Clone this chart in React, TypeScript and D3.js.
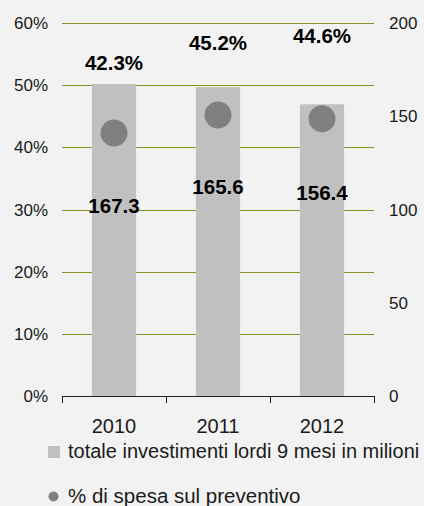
import React from "react";
import * as d3 from "d3";

const years = ["2010", "2011", "2012"];
const investimenti = [167.3, 165.6, 156.4];
const spesaPct = [0.423, 0.452, 0.446];
const leftTicks = [0, 0.1, 0.2, 0.3, 0.4, 0.5, 0.6];
const rightTicks = [0, 50, 100, 150, 200];
const legendLabels = ["totale investimenti lordi 9 mesi in milioni", "% di spesa sul preventivo"];

const W = 424;
const H = 506;
const FONT = "'Liberation Sans', Arial, sans-serif";

export default function App() {
  const x = d3.scaleBand<string>().domain(years).range([62, 374]);
  const yL = d3.scaleLinear().domain([0, 0.6]).range([396, 23]);
  const yR = d3.scaleLinear().domain([0, 200]).range([396, 23]);
  const barW = x.bandwidth() * 0.425;
  const pctDy = [-63, -65, -76];
  const barDy = [129, 107, 96];
  const pctFmt = d3.format(".1%");
  const numFmt = d3.format(".1f");
  const xTicks = [...years.map((y) => x(y) as number), 374];

  return (
    <div style={{ position: "absolute", left: 0, top: 0 }}>
      <svg width={W} height={H} style={{ display: "block" }} fontFamily={FONT}>
        <rect x={0} y={0} width={W} height={H} fill="#f2f2f2" />
        {leftTicks.slice(1).map((t) => (
          <line key={t} x1={62} x2={374} y1={Math.round(yL(t)) + 0.5} y2={Math.round(yL(t)) + 0.5} stroke="#8f8f1f" strokeWidth={1} />
        ))}
        {years.map((y, i) => (
          <rect
            key={y}
            x={(x(y) as number) + x.bandwidth() / 2 - barW / 2}
            y={yR(investimenti[i])}
            width={barW}
            height={yR(0) - yR(investimenti[i])}
            fill="#c0c0c0"
          />
        ))}
        <line x1={62} x2={374} y1={396.5} y2={396.5} stroke="#222" strokeWidth={1} />
        {xTicks.map((t, i) => (
          <line key={i} x1={Math.round(t) + 0.5} x2={Math.round(t) + 0.5} y1={396} y2={403} stroke="#222" strokeWidth={1} />
        ))}
        {leftTicks.map((t) => (
          <text key={t} x={48} y={yL(t) + 6} textAnchor="end" fontSize={17} fill="#1a1a1a">
            {d3.format(".0%")(t)}
          </text>
        ))}
        {rightTicks.map((t) => (
          <text key={t} x={389} y={yR(t) + 6} textAnchor="start" fontSize={17} fill="#1a1a1a">
            {t}
          </text>
        ))}
        {years.map((y, i) => (
          <circle key={y} cx={(x(y) as number) + x.bandwidth() / 2} cy={yL(spesaPct[i])} r={13.5} fill="#808080" />
        ))}
        {years.map((y, i) => (
          <text key={"p" + y} x={(x(y) as number) + x.bandwidth() / 2} y={yL(spesaPct[i]) + pctDy[i]} textAnchor="middle" fontSize={20.5} fontWeight="bold" fill="#000">
            {pctFmt(spesaPct[i])}
          </text>
        ))}
        {years.map((y, i) => (
          <text key={"b" + y} x={(x(y) as number) + x.bandwidth() / 2} y={yR(investimenti[i]) + barDy[i]} textAnchor="middle" fontSize={20.5} fontWeight="bold" fill="#000">
            {numFmt(investimenti[i])}
          </text>
        ))}
        {years.map((y) => (
          <text key={"x" + y} x={(x(y) as number) + x.bandwidth() / 2} y={433} textAnchor="middle" fontSize={20} fill="#1a1a1a">
            {y}
          </text>
        ))}
        <rect x={48} y={446} width={12} height={12} fill="#c0c0c0" />
        <text x={68} y={458} fontSize={20} fill="#1a1a1a">{legendLabels[0]}</text>
        <circle cx={53.5} cy={496.5} r={5} fill="#808080" />
        <text x={68} y={503} fontSize={20.5} fill="#1a1a1a">{legendLabels[1]}</text>
      </svg>
    </div>
  );
}
